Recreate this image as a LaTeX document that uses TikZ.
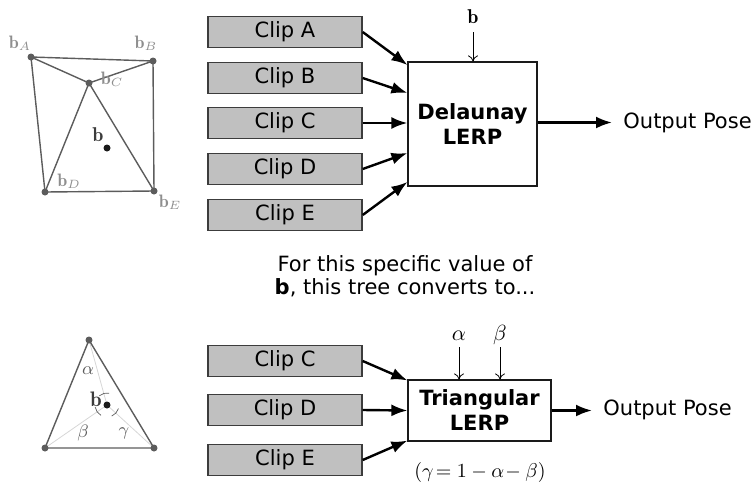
\documentclass[tikz,border=0pt]{standalone}
\usepackage{fontspec}
\setsansfont{DejaVu Sans}
\usetikzlibrary{arrows.meta}
\definecolor{ClipGray}{HTML}{C0C0C0}
\definecolor{Ink}{HTML}{1A1A1A}
\definecolor{Mesh}{HTML}{5C5C5C}
\definecolor{Tag}{HTML}{8E8E8E}
\definecolor{Faint}{HTML}{D6D6D6}

\begin{document}
\begin{tikzpicture}[x=0.5pt,y=-0.5pt,
  clipbox/.style={draw=Ink!85, fill=ClipGray, line width=0.7pt, minimum width=77pt, minimum height=15.5pt, inner sep=0pt, font=\sffamily\fontsize{10.5}{12}\selectfont},
  lerpbox/.style={draw=Ink, fill=white, line width=0.6pt, align=center, inner sep=0pt, font=\sffamily\bfseries\fontsize{10.5}{12.5}\selectfont},
  flow/.style={line width=1.2pt, -{Latex[length=8pt,width=6pt]}},
  feed/.style={line width=0.4pt, -{To[length=3pt,width=5pt]}},
  plain/.style={font=\sffamily\fontsize{10.5}{11.5}\selectfont},
  inlabel/.style={anchor=base, inner sep=0pt, text depth=0pt},
  meshline/.style={Mesh, line width=0.7pt},
  tag/.style={text=Tag, font=\fontsize{9}{10}\selectfont, inner sep=0pt}]
\useasboundingbox (0,0) rectangle (753,482);
% Delaunay tree
\foreach \n/\y in {A/32,B/78,C/123,D/169,E/215}
  \node[clipbox] (clip\n) at (285,\y) {Clip \n};
\node[lerpbox, minimum width=64.5pt, minimum height=62pt] (delaunay) at (472.5,124) {Delaunay\\LERP};
\foreach \n/\s in {A/29.5,B/15.5,C/0.5,D/-14.5,E/-29}
  \draw[flow] (clip\n.east) -- ([yshift=\s pt]delaunay.west);
\node[inlabel, font=\fontsize{10}{11}\selectfont] (bTop) at (473,24) {$\mathbf{b}$};
\draw[feed, shorten <=4pt] (bTop.south) -- (bTop.south |- delaunay.north);
\node[plain, anchor=west, inner sep=0pt] (poseTop) at (623,123) {Output Pose};
\draw[flow, shorten >=5.5pt] ([yshift=0.75pt]delaunay.east) -- ([yshift=0.75pt]delaunay.east -| poseTop.west);
\node[plain, align=center] (note) at (405,276) {For this specific value of\\\textbf{b}, this tree converts to...};
% triangular tree
\foreach \n/\y in {C/361,D/410,E/460}
  \node[clipbox] (low\n) at (285,\y) {Clip \n};
\node[lerpbox, minimum width=71.5pt, minimum height=30.5pt] (tri) at (479.5,410.5) {Triangular\\LERP};
\draw[flow] (lowC.east) -- ([yshift=-0.5pt]tri.north west);
\draw[flow] (lowD.east) -- (tri.west);
\draw[flow] (lowE.east) -- ([yshift=0.5pt]tri.south west);
\node[inlabel, font=\fontsize{11}{12}\selectfont] (alphaIn) at (459,340) {$\alpha$};
\node[inlabel, font=\fontsize{11}{12}\selectfont] (betaIn) at (500,340) {$\beta$};
\foreach \g in {alphaIn,betaIn}
  \draw[feed, shorten <=3.5pt] (\g.south) -- (\g.south |- tri.north);
\node[font=\fontsize{10}{11}\selectfont] (gammaEq) at (480,472) {$(\gamma\!=1-\alpha\!-\beta)$};
\node[plain, anchor=west, inner sep=0pt] (poseLow) at (603,410) {Output Pose};
\draw[flow, shorten >=5.5pt] (tri.east) -- (tri.east -| poseLow.west);
% Delaunay mesh
\coordinate (vA) at (31,57);\coordinate (vB) at (153,61);\coordinate (vC) at (89,83);
\coordinate (vD) at (45,192);\coordinate (vE) at (154,191);\coordinate (bPt) at (107,148);
\draw[meshline] (vA) -- (vB) -- (vE) -- (vD) -- cycle;
\draw[meshline] (vA) -- (vC) -- (vB) (vD) -- (vC) -- (vE);
\foreach \v in {vA,vB,vC,vD,vE}{\fill[Mesh] (\v) circle[radius=3.5];}
\fill[Ink] (bPt) circle[radius=3.5];
\node[tag] (tagA) at (20,43) {$\mathbf{b}_{A}$};
\node[tag] (tagB) at (146,43) {$\mathbf{b}_{B}$};
\node[tag] (tagC) at (112,79) {$\mathbf{b}_{C}$};
\node[tag] (tagD) at (69,181) {$\mathbf{b}_{D}$};
\node[tag] (tagE) at (170,202) {$\mathbf{b}_{E}$};
\node[text=Ink!85, font=\fontsize{10}{11}\selectfont, inner sep=0pt] (bMid) at (98,135) {$\mathbf{b}$};
% barycentric triangle
\coordinate (tT) at (89,340);\coordinate (tL) at (45,448);\coordinate (tR) at (154,448);\coordinate (tP) at (107,405);
\draw[Faint, line width=0.4pt] (tP) -- (tT) (tP) -- (tL) (tP) -- (tR);
\draw[meshline] (tT) -- (tL) -- (tR) -- cycle;
\foreach \a in {-105,145,42}
  \draw[Mesh, line width=0.35pt] ([shift={(\a-25:12)}]tP) arc[start angle=\a-25, end angle=\a+25, radius=12];
\foreach \v in {tT,tL,tR}{\fill[Mesh] (\v) circle[radius=3.5];}
\fill[Ink] (tP) circle[radius=3.5];
\node[text=Mesh, font=\fontsize{9.5}{11}\selectfont, inner sep=0pt] (wAlpha) at (88,371) {$\alpha$};
\node[text=Mesh, font=\fontsize{9.5}{11}\selectfont, inner sep=0pt] (wBeta) at (83,433) {$\beta$};
\node[text=Mesh, font=\fontsize{9.5}{11}\selectfont, inner sep=0pt] (wGamma) at (124,433) {$\gamma$};
\node[text=Ink!85, font=\fontsize{10.5}{12}\selectfont, inner sep=0pt] (bTri) at (96,399) {$\mathbf{b}$};
\end{tikzpicture}
\end{document}
